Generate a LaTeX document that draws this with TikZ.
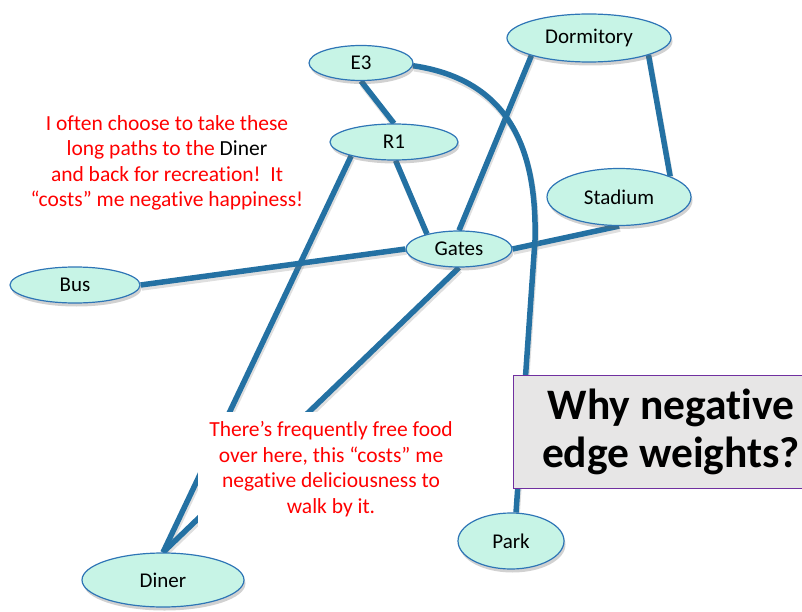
\documentclass[tikz,border=0pt]{standalone}
\usepackage{fontspec}
\setmainfont{Carlito}[Ligatures=NoCommon]
\usetikzlibrary{shapes.geometric,shadows,backgrounds}
\definecolor{edgeblue}{RGB}{36,113,163}
\definecolor{nodefill}{RGB}{199,244,230}
\definecolor{nodeborder}{RGB}{46,117,182}
\definecolor{boxfill}{RGB}{231,230,230}
\definecolor{boxborder}{RGB}{112,48,160}
\definecolor{txtred}{RGB}{255,0,0}
\begin{document}
\begin{tikzpicture}[x=1pt,y=-1pt,
  place/.style={ellipse, draw=nodeborder, line width=1.2pt, fill=nodefill, inner sep=0pt,
    font=\fontsize{21}{24}\selectfont,
    drop shadow={shadow xshift=1.5pt, shadow yshift=-3.5pt, opacity=0.3, fill=black!60}},
  road/.style={draw=edgeblue, line width=5.5pt,
    preaction={draw=black!50, draw opacity=0.25, line width=5.5pt,
      transform canvas={xshift=1pt, yshift=-3pt}}},
  note/.style={text=txtred, align=center, inner sep=0pt, font=\fontsize{21.5}{25.5}\selectfont},
  titlebox/.style={draw=boxborder, line width=1pt, fill=boxfill, align=center, inner sep=0pt,
    font=\bfseries\fontsize{43.5}{48}\selectfont}
  ]
\useasboundingbox (0,0) rectangle (802,612);
\node[place, minimum width=104pt, minimum height=35pt] (E3) at (361,63) {E3};
\node[place, minimum width=128pt, minimum height=36pt] (R1) at (394,142) {R1};
\node[place, minimum width=164pt, minimum height=48pt] (Dorm) at (589,38) {Dormitory};
\node[place, minimum width=144pt, minimum height=57pt] (Stadium) at (619,197) {Stadium};
\node[place, minimum width=106pt, minimum height=36pt] (Gates) at (459,249) {Gates};
\node[place, minimum width=130pt, minimum height=36pt] (Bus) at (75,285) {Bus};
\node[place, minimum width=162pt, minimum height=54pt] (Diner) at (163,580) {Diner};
\node[place, minimum width=106pt, minimum height=56pt] (Park) at (511,541) {Park};
\coordinate (bend) at (535,240);
\begin{scope}[on background layer]
\draw[road] (E3.south) -- (R1.north);
\draw[road] (R1.-85) -- (Gates.155);
\draw[road] (R1.198) -- (Diner.north);
\draw[road] (Gates.south) -- (Diner.north);
\draw[road] (Bus.east) -- (Gates.west);
\draw[road] (Gates.east) -- (Stadium.south);
\draw[road] (Gates.north) -- (Dorm.197);
\draw[road] (Dorm.-16) -- (Stadium.22);
\draw[road] (E3.-3) .. controls (510,80) and (537,150) .. (bend) -- (Park.80);
\end{scope}
\node[note] (n1) at (167,163) {I often choose to take these\\ long paths to the \textcolor{black}{Diner}\\ and back for recreation!\ \ It\\ “costs” me negative happiness!};
\node[note, fill=white, minimum width=266pt, minimum height=115pt] (n2) at (331,469) {There’s frequently free food\\ over here, this “costs” me\\ negative deliciousness to\\ walk by it.};
\node[titlebox, minimum width=316pt, minimum height=113pt] (title) at (671,431.5) {Why negative\\ edge weights?};
\end{tikzpicture}
\end{document}
